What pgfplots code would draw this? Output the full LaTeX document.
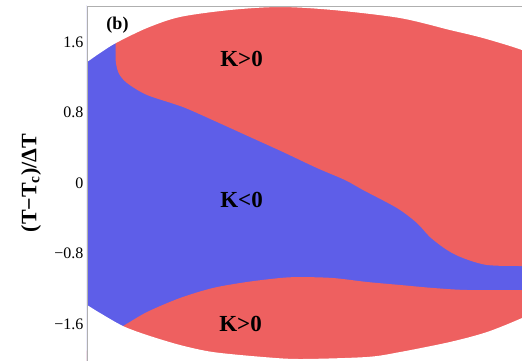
\documentclass[border=0pt]{standalone}
\usepackage{fontspec}
\setmainfont{Liberation Serif}
\usepackage{pgfplots}
\pgfplotsset{compat=1.18}
\definecolor{kred}{RGB}{238,96,96}
\definecolor{kblue}{RGB}{94,94,232}
\definecolor{frame}{RGB}{175,175,175}
\begin{document}
\begin{tikzpicture}
\begin{axis}[
  scale only axis,
  width=441pt, height=362pt,
  xmin=87, xmax=528,
  ymin=-2.099, ymax=2.0085,
  axis on top,
  axis line style={draw=frame, line width=0.9pt},
  xtick=\empty,
  ytick={-1.6,-0.8,0,0.8,1.6},
  yticklabels={−1.6,−0.8,0,0.8,1.6},
  yticklabel style={font=\fontsize{16}{16}\selectfont},
  major tick length=0pt,
  ylabel={\textbf{(T−T\textsubscript{c})/ΔT}},
  every axis y label/.style={at={(axis description cs:0,0.511)}, xshift=-56pt, rotate=90, anchor=center, font=\fontsize{22}{22}\selectfont},
]
% whole area blue (K<0)
\addplot[fill=kblue, draw=none] coordinates {(60,-3) (620,-3) (620,3) (60,3)} -- cycle;
% upper red region (K>0)
\addplot[smooth, fill=kred, draw=none] coordinates {
 (116,2.3) (116,1.70) (115.5,1.50) (116,1.36) (119,1.24) (127,1.135) (147,0.999)
 (183,0.862) (217,0.692) (250,0.522) (283,0.352) (317,0.170) (345,0.034)
 (363,-0.079) (397,-0.284) (417,-0.454) (430,-0.613) (447,-0.760) (463,-0.851)
 (487,-0.930) (522,-0.942) (560,-0.942) (620,-0.942) (620,2.3)} -- cycle;
% lower red region (K>0)
\addplot[smooth, fill=kred, draw=none] coordinates {
 (60,-2.3) (95,-1.80) (123,-1.623) (147,-1.464) (180,-1.305) (213,-1.191)
 (247,-1.123) (280,-1.078) (300,-1.067) (333,-1.078) (367,-1.123) (400,-1.157)
 (433,-1.191) (467,-1.214) (522,-1.214) (560,-1.214) (620,-1.214) (620,-2.3)} -- cycle;
% outside of the domain (white)
\addplot[smooth, fill=white, draw=none] coordinates {
 (60,1.20) (80,1.328) (87,1.373) (100,1.475) (116,1.589) (147,1.759) (180,1.884)
 (230,1.963) (280,1.997) (333,1.963) (400,1.872) (450,1.736) (483,1.645)
 (522,1.509) (560,1.33) (620,1.0) (620,2.5) (60,2.5)} -- cycle;
\addplot[smooth, fill=white, draw=none] coordinates {
 (60,-1.26) (80,-1.339) (87,-1.384) (100,-1.475) (123,-1.623) (147,-1.725)
 (180,-1.838) (213,-1.918) (263,-1.974) (300,-1.997) (367,-1.974) (400,-1.918)
 (450,-1.804) (487,-1.691) (522,-1.532) (560,-1.33) (620,-1.0) (620,-2.5) (60,-2.5)} -- cycle;
% labels
\node[font=\fontsize{18}{18}\selectfont\bfseries] at (axis cs:117.5,1.793) {(b)};
\node[font=\fontsize{23}{23}\selectfont\bfseries] at (axis cs:241.5,1.413) {K>0};
\node[font=\fontsize{23}{23}\selectfont\bfseries] at (axis cs:241.5,-0.193) {K<0};
\node[font=\fontsize{23}{23}\selectfont\bfseries] at (axis cs:240.5,-1.594) {K>0};
\end{axis}
\pgfresetboundingbox
\path[use as bounding box] (-87pt,8pt) rectangle (435pt,368pt);
\end{tikzpicture}
\end{document}
